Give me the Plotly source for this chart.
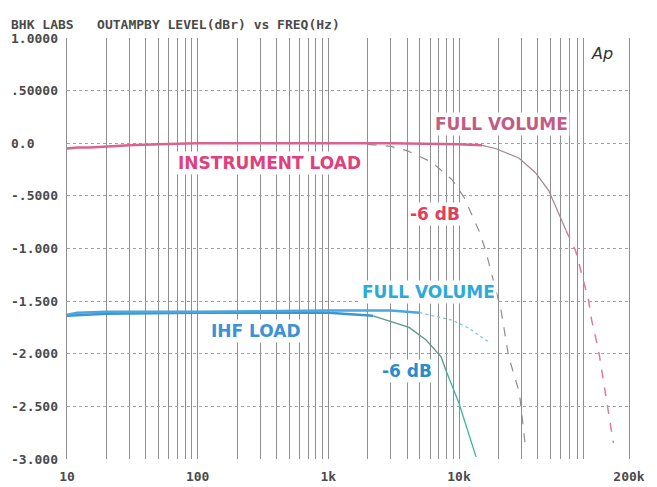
import plotly.graph_objects as go

# Level (dBr) vs frequency (Hz)
INST_FULL_F = [10, 12, 15, 20, 30, 50, 100, 300, 1000, 3000, 10000, 15000, 19000,
               28700, 38500, 48600, 66000, 78000, 98000, 103500, 117000, 135000, 152000]
INST_FULL_DB = [-0.05, -0.04, -0.04, -0.03, -0.02, -0.01, 0.0, 0.0, 0.0, 0.0, -0.01, -0.02, -0.05,
                -0.14, -0.28, -0.45, -0.83, -1.02, -1.49, -1.68, -1.97, -2.47, -2.85]

INST_6DB_F = [10, 20, 100, 1000, 2000, 3000, 4000, 6200, 8900, 11000, 14200, 16000,
              21000, 24000, 29000, 32000]
INST_6DB_DB = [-0.05, -0.03, 0.0, 0.0, -0.01, -0.03, -0.07, -0.18, -0.35, -0.52, -0.83, -1.02,
               -1.59, -2.03, -2.37, -2.85]

IHF_FULL_F = [10, 12, 20, 100, 1000, 3000, 5000, 8850, 12000, 17000]
IHF_FULL_DB = [-1.63, -1.61, -1.60, -1.60, -1.59, -1.59, -1.61, -1.68, -1.76, -1.89]

IHF_6DB_F = [10, 20, 100, 1000, 2200, 4150, 5600, 7300, 7950, 10000, 13500]
IHF_6DB_DB = [-1.64, -1.62, -1.61, -1.61, -1.64, -1.75, -1.87, -2.03, -2.16, -2.47, -2.98]

X_TICKS = [10, 100, 1000, 10000, 200000]
X_TICK_TEXT = ["10", "100", "1k", "10k", "200k"]
Y_TICKS = [1.0, 0.5, 0.0, -0.5, -1.0, -1.5, -2.0, -2.5, -3.0]
Y_TICK_TEXT = ["1.0000", ".50000", "0.0", "-.5000", "-1.000", "-1.500", "-2.000", "-2.500", "-3.000"]

MONO = "DejaVu Sans Mono"
SANS = "DejaVu Sans"
GRID = "#8f8f8f"

fig = go.Figure()


def seg(f, db, i0, i1, color, width, dash="solid"):
    fig.add_trace(go.Scatter(x=f[i0:i1], y=db[i0:i1], mode="lines", showlegend=False,
                             hoverinfo="skip",
                             line=dict(color=color, width=width, dash=dash)))


# IHF load, -6 dB
seg(IHF_6DB_F, IHF_6DB_DB, 0, 5, "#3f94d2", 2.5)
seg(IHF_6DB_F, IHF_6DB_DB, 4, 9, "#5a9a8c", 1.3)
seg(IHF_6DB_F, IHF_6DB_DB, 8, 11, "#38b4a4", 1.3)
# IHF load, full volume
seg(IHF_FULL_F, IHF_FULL_DB, 0, 7, "#4aa6e0", 2.5)
seg(IHF_FULL_F, IHF_FULL_DB, 6, 10, "#7cc8ec", 1.3, "dot")
# instrument load, -6 dB
seg(INST_6DB_F, INST_6DB_DB, 4, 16, "#8e8e8e", 1.2, "dash")
# instrument load, full volume
seg(INST_FULL_F, INST_FULL_DB, 0, 12, "#d9628e", 2.5)
seg(INST_FULL_F, INST_FULL_DB, 11, 17, "#a08594", 1.2)
seg(INST_FULL_F, INST_FULL_DB, 16, 23, "#e07aa4", 1.5, "dash")

minor_x = [m * 10 ** e for e in range(1, 6) for m in range(2, 10) if m * 10 ** e < 200000]

labels = [
    ("INSTRUMENT LOAD", 2.553, -0.188, "#e0407c"),
    ("FULL VOLUME", 4.329, 0.183, "#c25c84"),
    ("-6 dB", 3.816, -0.672, "#e0405e"),
    ("FULL VOLUME", 3.770, -1.413, "#2eaad8"),
    ("IHF LOAD", 2.446, -1.784, "#3c92d2"),
    ("-6 dB", 3.602, -2.164, "#2a8cca"),
]
for text, lx, ly, col in labels:
    fig.add_annotation(x=lx, y=ly, text=text, showarrow=False, bgcolor="white",
                       font=dict(family=SANS, size=17, color=col, weight=600))

for v, t in zip(Y_TICKS, Y_TICK_TEXT):
    fig.add_annotation(x=0, xref="paper", y=v, yref="y", text=t, showarrow=False,
                       xanchor="left", xshift=-58,
                       font=dict(family=MONO, size=13, color="#4a4a4a", weight="bold"))

fig.add_annotation(x=0, xref="paper", y=1, yref="paper", yshift=23, xshift=-58,
                   xanchor="left", showarrow=False,
                   text="BHK LABS   OUTAMPBY LEVEL(dBr) vs FREQ(Hz)",
                   font=dict(family=MONO, size=13, color="#4a4a4a", weight="bold"))
fig.add_annotation(x=1, xref="paper", y=1, yref="paper", xanchor="right", yanchor="top",
                   xshift=-14, yshift=-4, showarrow=False, text="Ap",
                   font=dict(family=SANS, size=16, color="#333333", style="italic"))

fig.update_layout(
    width=657, height=487,
    margin=dict(l=67, r=28, t=38, b=28),
    plot_bgcolor="white", paper_bgcolor="white",
)
fig.update_xaxes(type="log", range=[1, 5.30103], tickvals=X_TICKS, ticktext=X_TICK_TEXT,
                 automargin=False,
                 showgrid=True, gridcolor=GRID, gridwidth=1, zeroline=False,
                 ticklabelstandoff=8,
                 tickfont=dict(family=MONO, size=13, color="#4a4a4a", weight="bold"),
                 minor=dict(tickvals=minor_x, showgrid=True, gridcolor=GRID, gridwidth=1))
fig.update_yaxes(range=[-3, 1], tickvals=Y_TICKS, showticklabels=False, automargin=False,
                 showgrid=True, gridcolor="#a0a0a0", griddash="dot", gridwidth=1,
                 zeroline=False, showline=True, linecolor=GRID, mirror=True)

# the page body has a default 8px margin; drop it so the chart fills the window
fig.write_html("out.html", config={"displayModeBar": False},
               post_script="document.body.style.margin='0';document.body.style.overflow='hidden';")
